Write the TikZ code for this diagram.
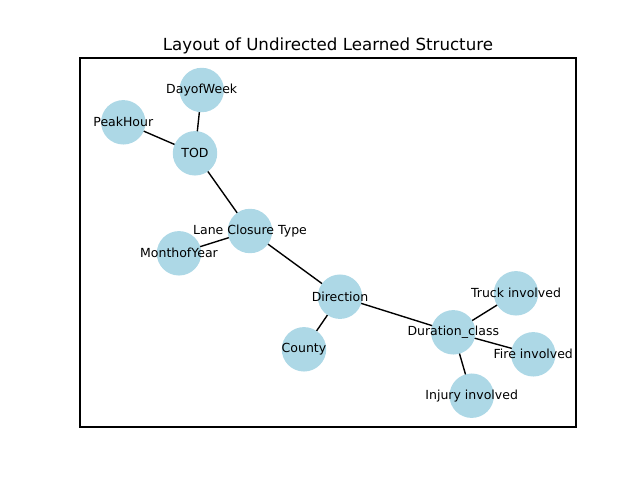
\documentclass[tikz,border=0pt]{standalone}
\usepackage{fontspec}
\setmainfont{DejaVu Sans}
\usetikzlibrary{backgrounds}
\definecolor{lightblue}{HTML}{ADD8E6}
\tikzset{
  nodec/.style={circle, fill=lightblue, draw=none, minimum size=32pt, inner sep=0pt,
    label={[font=\fontsize{9}{10}\selectfont, inner sep=0pt]center:#1}},
  edge/.style={draw=black, line width=1pt}
}
\begin{document}
\begin{tikzpicture}[x=0.72pt, y=-0.72pt]
\useasboundingbox (0,0) rectangle (640,480);
\draw[line width=0.8pt] (80,58) rectangle (576,427);
\node[font=\fontsize{12}{14}\selectfont, anchor=base] (title) at (328,50) {Layout of Undirected Learned Structure};
\node[nodec=DayofWeek] (dow) at (201.7,90) {};
\node[nodec=PeakHour] (peak) at (123.3,122.3) {};
\node[nodec=TOD] (tod) at (195,153.3) {};
\node[nodec=Lane Closure Type] (lane) at (250,231) {};
\node[nodec=MonthofYear] (month) at (179,253.3) {};
\node[nodec=Direction] (dir) at (340,296.7) {};
\node[nodec=County] (county) at (304,349.3) {};
\node[nodec=Duration\_class] (dur) at (453.3,332.3) {};
\node[nodec=Truck involved] (truck) at (516,293.3) {};
\node[nodec=Fire involved] (fire) at (533.3,354.3) {};
\node[nodec=Injury involved] (injury) at (471.7,395.7) {};
\begin{scope}[on background layer]
\draw[edge] (dow.center) -- (tod.center);
\draw[edge] (peak.center) -- (tod.center);
\draw[edge] (tod.center) -- (lane.center);
\draw[edge] (lane.center) -- (month.center);
\draw[edge] (lane.center) -- (dir.center);
\draw[edge] (dir.center) -- (county.center);
\draw[edge] (dir.center) -- (dur.center);
\draw[edge] (dur.center) -- (truck.center);
\draw[edge] (dur.center) -- (fire.center);
\draw[edge] (dur.center) -- (injury.center);
\end{scope}
\end{tikzpicture}
\end{document}
